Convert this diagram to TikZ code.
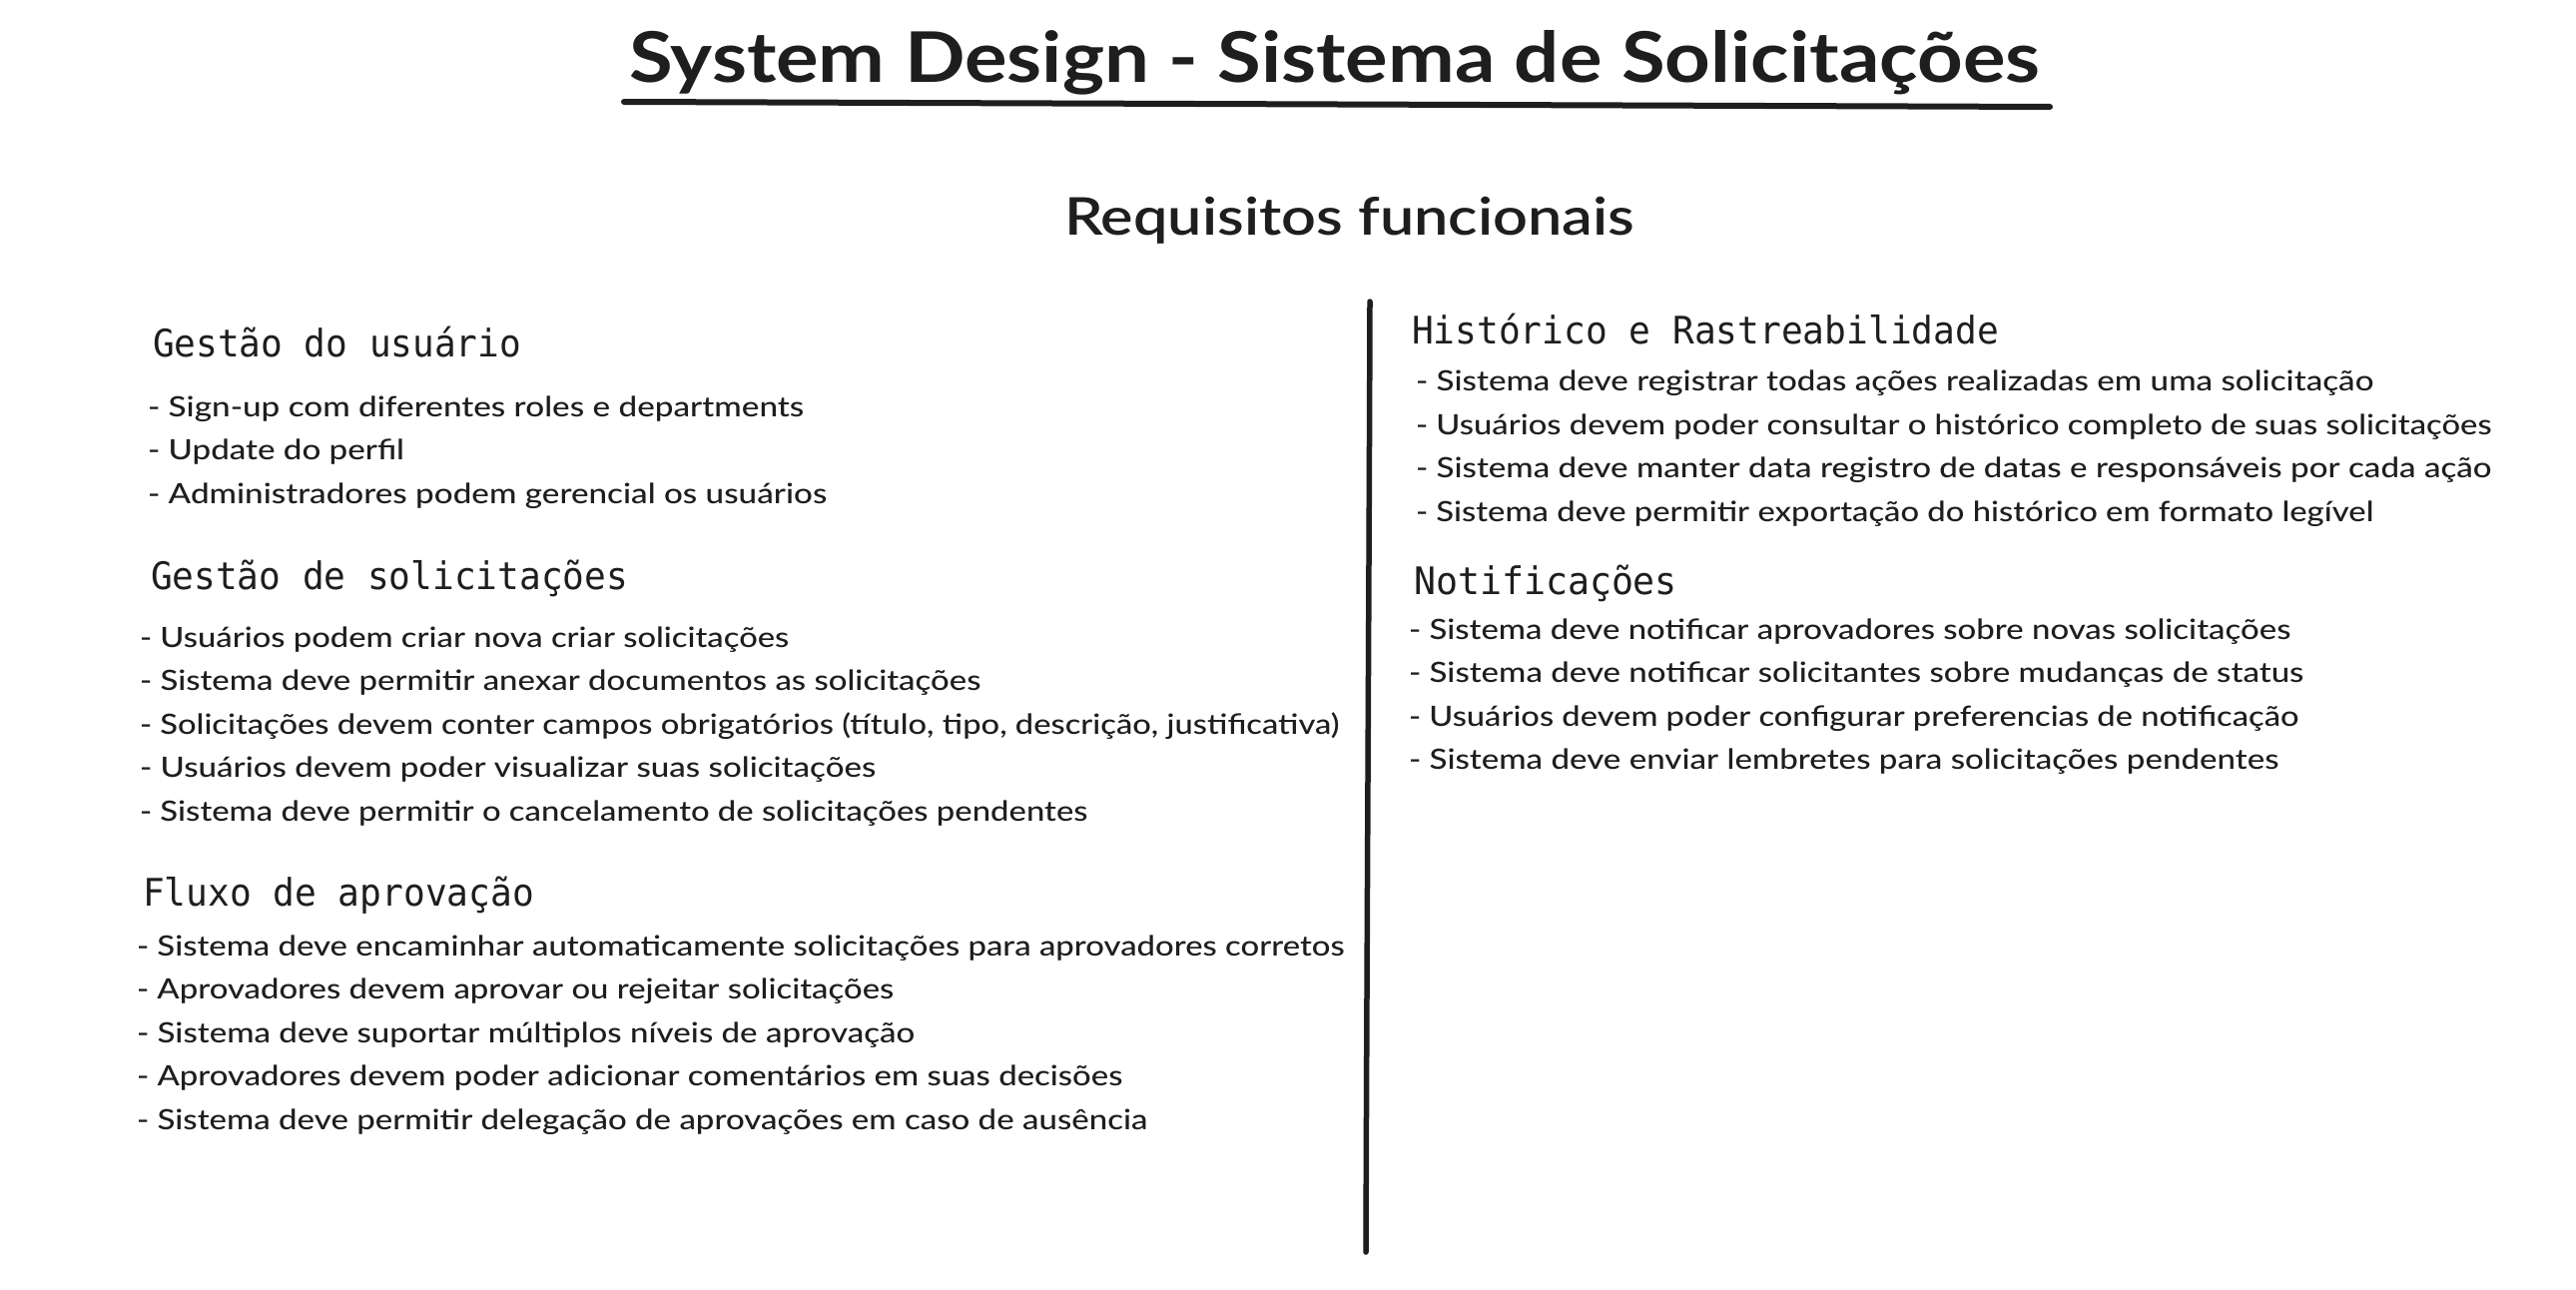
\documentclass[tikz,border=0pt]{standalone}
\usepackage{fontspec}
\usepackage{graphicx}
\setmainfont{Lato}
\newfontfamily\latomed{Lato}[UprightFont={* Medium}]
\newfontfamily\latosemi{Lato}[UprightFont={* Semibold}]
\newfontfamily\monof{DejaVu Sans Mono}
\definecolor{ink}{HTML}{1E1E1E}
\newcommand\fitline[2]{\resizebox{#1pt}{\height}{#2}}
\begin{document}
\begin{tikzpicture}[x=1pt,y=-1pt,
  txt/.style={anchor=base west, inner sep=0pt, outer sep=0pt, text=ink},
  body/.style={txt, font=\latomed\fontsize{28}{30}\selectfont},
  head/.style={txt, font=\monof\fontsize{38}{40}\selectfont},
  rule/.style={draw=ink, line cap=round, line join=round}]
\fill[white] (0,0) rectangle (2580,1292);
\useasboundingbox (0,0) rectangle (2580,1292);

% Title
\node[txt, font=\bfseries\fontsize{70}{72}\selectfont] (title) at (630,83) {\fitline{1413}{System Design - Sistema de Solicitações}};
\coordinate (ulA) at (625,102);
\coordinate (ulB) at (2053,107);
\draw[rule, line width=6pt] (ulA) -- (ulB);
\node[txt, font=\latosemi\fontsize{52}{54}\selectfont] (req) at (1066,236) {\fitline{571}{Requisitos funcionais}};

% Divider
\coordinate (vtop) at (1372,302);
\coordinate (vbot) at (1368,1254);
\draw[rule, line width=5.5pt] (vtop) .. controls (1371,620) and (1369,940) .. (vbot);

% Left column
\node[head] (h1) at (153,357) {\fitline{369}{Gestão do usuário}};
\node[body] (a1) at (148,417) {\fitline{657}{- Sign-up com diferentes roles e departments}};
\node[body] (a2) at (148,460.6) {\fitline{257}{- Update do perfil}};
\node[body] (a3) at (148,504.2) {\fitline{680}{- Administradores podem gerencial os usuários}};

\node[head] (h2) at (151,590) {\fitline{478}{Gestão de solicitações}};
\node[body] (b1) at (140,648) {\fitline{650}{- Usuários podem criar nova criar solicitações}};
\node[body] (b2) at (140,691.6) {\fitline{842}{- Sistema deve permitir anexar documentos as solicitações}};
\node[body] (b3) at (140,735.2) {\fitline{1201}{- Solicitações devem conter campos obrigatórios (título, tipo, descrição, justificativa)}};
\node[body] (b4) at (140,778.8) {\fitline{737}{- Usuários devem poder visualizar suas solicitações}};
\node[body] (b5) at (140,822.4) {\fitline{949}{- Sistema deve permitir o cancelamento de solicitações pendentes}};

\node[head] (h3) at (143,907) {\fitline{392}{Fluxo de aprovação}};
\node[body] (c1) at (137,957) {\fitline{1209}{- Sistema deve encaminhar automaticamente solicitações para aprovadores corretos}};
\node[body] (c2) at (137,1000.6) {\fitline{758}{- Aprovadores devem aprovar ou rejeitar solicitações}};
\node[body] (c3) at (137,1044.2) {\fitline{779}{- Sistema deve suportar múltiplos níveis de aprovação}};
\node[body] (c4) at (137,1087.8) {\fitline{987}{- Aprovadores devem poder adicionar comentários em suas decisões}};
\node[body] (c5) at (137,1131.4) {\fitline{1012}{- Sistema deve permitir delegação de aprovações em caso de ausência}};

% Right column
\node[head] (h4) at (1414,344) {\fitline{588}{Histórico e Rastreabilidade}};
\node[body] (d1) at (1418,391.5) {\fitline{959}{- Sistema deve registrar todas ações realizadas em uma solicitação}};
\node[body] (d2) at (1418,435) {\fitline{1077}{- Usuários devem poder consultar o histórico completo de suas solicitações}};
\node[body] (d3) at (1418,478.5) {\fitline{1077}{- Sistema deve manter data registro de datas e responsáveis por cada ação}};
\node[body] (d4) at (1418,522) {\fitline{959}{- Sistema deve permitir exportação do histórico em formato legível}};

\node[head] (h5) at (1416,595) {\fitline{264}{Notificações}};
\node[body] (e1) at (1411,640) {\fitline{883}{- Sistema deve notificar aprovadores sobre novas solicitações}};
\node[body] (e2) at (1411,683.6) {\fitline{896}{- Sistema deve notificar solicitantes sobre mudanças de status}};
\node[body] (e3) at (1411,727.2) {\fitline{891}{- Usuários devem poder configurar preferencias de notificação}};
\node[body] (e4) at (1411,770.8) {\fitline{871}{- Sistema deve enviar lembretes para solicitações pendentes}};
\end{tikzpicture}
\end{document}
